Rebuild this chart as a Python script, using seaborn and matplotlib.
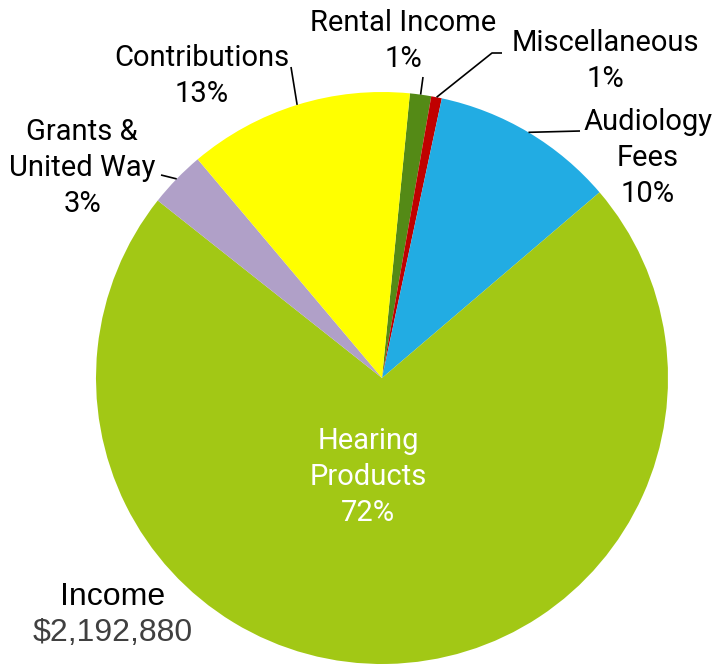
import numpy as np
import matplotlib.pyplot as plt
import seaborn as sns

# income sources, clockwise from just right of 12 o'clock
categories = ["Rental Income", "Miscellaneous", "Audiology\nFees", "Hearing\nProducts",
              "Grants &\nUnited Way", "Contributions"]
shares = [1.2, 0.6, 10.4, 71.9, 3.2, 12.7]
pct_labels = ["1%", "1%", "10%", "72%", "3%", "13%"]
colors = ["#548A16", "#C00000", "#22ACE3", "#A2C815", "#B0A0C8", "#FFFF00"]
chart_title = "Income"
total_label = "$2,192,880"

sns.set_theme(style="white")
plt.rcParams["font.family"] = ["Roboto", "DejaVu Sans"]

fig = plt.figure(figsize=(7.15, 6.67), dpi=100)
ax = fig.add_axes([0, 0, 1, 1])

R = 286.0  # pie radius in pixels
cx, cy = 382.0, 378.0  # pie centre in pixels


def px(x, y):
    return (x - cx) / R, (cy - y) / R


start = 84.4
wedges, _ = ax.pie(shares, colors=colors, startangle=start, counterclock=False,
                   radius=1.0, wedgeprops=dict(linewidth=0))

# label placement (pixels) and leader-line bends
label_pos = [(403, 41), (605, 61), (648, 158), (368, 477), (82, 168), (202, 76)]
leader_bend = [[(423, 77)], [(492, 53), (502, 53)], [(580, 131)], None,
               [(161, 175)], [(291, 67)]]

for i, w in enumerate(wedges):
    mid = np.deg2rad((w.theta1 + w.theta2) / 2)
    text = categories[i] + "\n" + pct_labels[i]
    tx, ty = px(*label_pos[i])
    inside = leader_bend[i] is None
    ax.text(tx, ty, text, ha="center", va="center",
            color="white" if inside else "black", fontsize=21, linespacing=1.35)
    if inside:
        continue
    pts = [(np.cos(mid), np.sin(mid))] + [px(*p) for p in leader_bend[i]]
    xs, ys = zip(*pts)
    ax.plot(xs, ys, color="black", lw=1.2, solid_capstyle="butt")

ix, iy = px(113, 597)
ax.text(ix, iy, chart_title, ha="center", va="center", color="black", fontsize=23,
        family=["Liberation Sans", "DejaVu Sans"])
vx, vy = px(113, 633)
ax.text(vx, vy, total_label, ha="center", va="center", color="#404040", fontsize=23,
        family=["Liberation Sans", "DejaVu Sans"])

ax.set_xlim(-cx / R, (715 - cx) / R)
ax.set_ylim(-(667 - cy) / R, cy / R)
ax.set_aspect("equal")
ax.axis("off")

fig.savefig("out.png", dpi=100)
